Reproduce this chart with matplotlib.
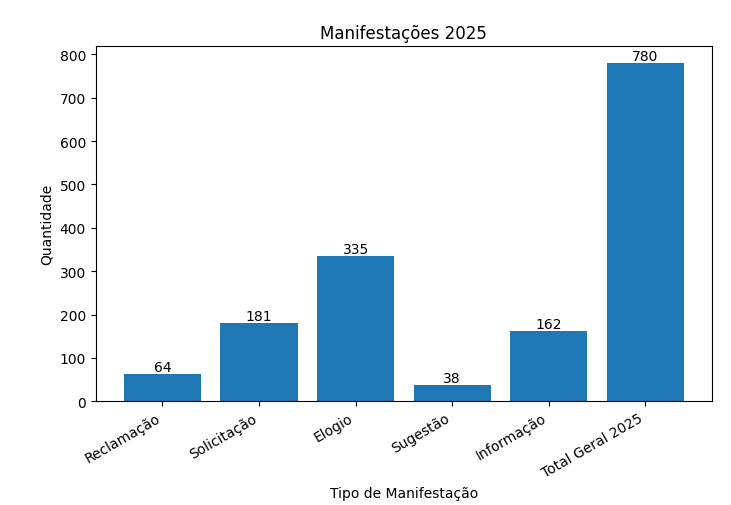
import matplotlib
matplotlib.use('Agg')
import matplotlib.pyplot as plt

tipos = ['Reclamação', 'Solicitação', 'Elogio', 'Sugestão', 'Informação', 'Total Geral 2025']
quantidades = [64, 181, 335, 38, 162, 780]

fig, ax = plt.subplots(figsize=(7.31, 5.06), dpi=100)
bars = ax.bar(tipos, quantidades, color='#1f77b4')
ax.bar_label(bars)

ax.set_title('Manifestações 2025')
ax.set_xlabel('Tipo de Manifestação')
ax.set_ylabel('Quantidade')
plt.xticks(rotation=30, ha='right')

fig.subplots_adjust(left=0.131, right=0.974, top=0.907, bottom=0.205)
plt.savefig('out.png')
